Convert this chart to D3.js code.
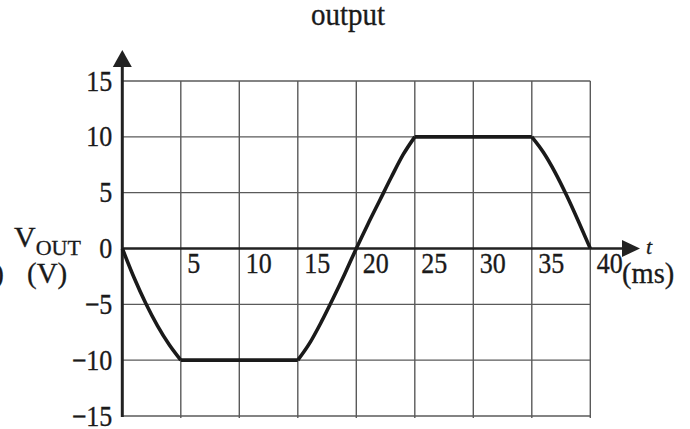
<!DOCTYPE html>
<html>
<head>
<meta charset="utf-8">
<script src="https://cdn.jsdelivr.net/npm/d3@7"></script>
<style>
  html, body { margin: 0; padding: 0; background: #fff; }
  svg { display: block; }
  text { font-family: "Liberation Serif", "Times New Roman", serif; fill: #1a1a1a; stroke: #1a1a1a; stroke-width: 0.3px; }
</style>
</head>
<body>
<svg id="chart" width="690" height="429"></svg>
<script>
// Output voltage waveform (clipped sine), time in ms, voltage in V
const timeMs = [0, 1, 2, 3, 4, 5, 15, 16, 17, 18, 19, 20, 21, 22, 23, 24, 25, 35, 36, 37, 38, 39, 40];
const vOut   = [0, -2.6, -4.9, -6.9, -8.6, -10, -10, -8.5, -6.6, -4.5, -2.3, 0, 2.2, 4.3, 6.4, 8.4, 10, 10, 8.6, 6.8, 4.7, 2.4, 0];
// indices where the waveform has a sharp corner (start/end of flat parts)
const cornerIdx = [5, 6, 16, 17];

const xTicks = [5, 10, 15, 20, 25, 30, 35, 40];
const yTicks = [15, 10, 5, 0, -5, -10, -15];
const yGrid  = [15, 10, 5, -5, -10, -15];

const svg = d3.select("#chart");
const x = d3.scaleLinear().domain([0, 40]).range([122.3, 590.3]);
const y = d3.scaleLinear().domain([-15, 15]).range([416, 81]);

// title
svg.append("text")
  .attr("x", 348).attr("y", 25)
  .attr("text-anchor", "middle")
  .attr("font-size", 29)
  .attr("transform", "translate(348,25) scale(1,1.08) translate(-348,-25)")
  .text("output");

// grid
const grid = svg.append("g").attr("stroke", "#5a5a5a").attr("stroke-width", 1.4);
grid.selectAll("line.v").data(xTicks).join("line")
  .attr("x1", d => x(d)).attr("x2", d => x(d))
  .attr("y1", y(15)).attr("y2", y(-15) + 2);
grid.selectAll("line.h").data(yGrid).join("line")
  .attr("x1", x(0)).attr("x2", x(40))
  .attr("y1", d => y(d)).attr("y2", d => y(d));

// y tick labels
const yAxis = svg.append("g")
  .attr("transform", `translate(${x(0)},0)`)
  .call(d3.axisLeft(y).tickValues(yTicks).tickSize(0).tickPadding(10));
yAxis.select(".domain").remove();
yAxis.selectAll("text")
  .attr("font-family", null)
  .attr("font-size", 26)
  .attr("fill", null)
  .attr("dy", "0.32em")
  .attr("transform", "scale(1,1.1)");

// x tick labels
const xAxis = svg.append("g")
  .attr("transform", `translate(0,${y(0)})`)
  .call(d3.axisBottom(x).tickValues(xTicks).tickSize(0));
xAxis.select(".domain").remove();
xAxis.selectAll("text")
  .attr("font-family", null)
  .attr("font-size", 26)
  .attr("fill", null)
  .attr("text-anchor", "start")
  .attr("x", 6).attr("y", 25).attr("dy", 0)
  .attr("transform", "translate(0,25) scale(1,1.1) translate(0,-25)");

// axes lines with arrows
svg.append("line")
  .attr("x1", x(0)).attr("x2", 624)
  .attr("y1", y(0)).attr("y2", y(0))
  .attr("stroke", "#222").attr("stroke-width", 2.6);
svg.append("path")
  .attr("d", `M622,${y(0) - 8.5}L640,${y(0)}L622,${y(0) + 8.5}Z`)
  .attr("fill", "#222");
svg.append("line")
  .attr("x1", x(0)).attr("x2", x(0))
  .attr("y1", y(-15) + 1).attr("y2", 64)
  .attr("stroke", "#222").attr("stroke-width", 3);
svg.append("path")
  .attr("d", `M${x(0) - 9.5},67L${x(0)},50L${x(0) + 9.5},67Z`)
  .attr("fill", "#222");

// axis titles
svg.append("text").attr("x", 646).attr("y", 254)
  .attr("font-size", 22).attr("font-style", "italic").text("t");
svg.append("text").attr("x", 622).attr("y", 283)
  .attr("font-size", 28.5).text("(ms)");

const vLabel = svg.append("text").attr("x", 14).attr("y", 247).attr("font-size", 30);
vLabel.append("tspan").text("V");
vLabel.append("tspan").attr("font-size", 22).attr("dy", 8).text("OUT");
svg.append("text").attr("x", 27).attr("y", 283).attr("font-size", 29).text("(V)");
svg.append("text").attr("x", 4).attr("y", 283).attr("font-size", 29)
  .attr("text-anchor", "end").text(")");

// waveform, drawn piecewise so the clipping corners stay sharp
const pts = timeMs.map((t, i) => [t, vOut[i]]);
const breaks = [0, ...cornerIdx, pts.length - 1];
const line = d3.line().x(d => x(d[0])).y(d => y(d[1])).curve(d3.curveMonotoneX);
let dStr = "";
for (let i = 0; i < breaks.length - 1; i++) {
  dStr += line(pts.slice(breaks[i], breaks[i + 1] + 1));
}
svg.append("path")
  .attr("d", dStr)
  .attr("fill", "none")
  .attr("stroke", "#1a1a1a")
  .attr("stroke-width", 3.6)
  .attr("stroke-linejoin", "miter");
</script>
</body>
</html>
